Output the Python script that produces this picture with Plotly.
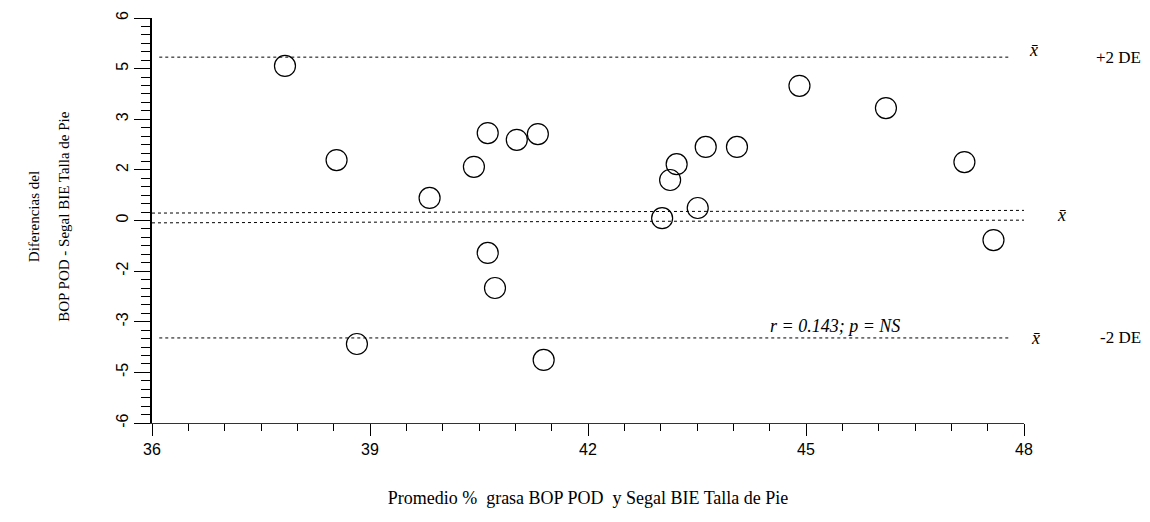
import plotly.graph_objects as go

# Data
promedio = [37.83, 38.54, 38.82, 39.82, 40.43, 40.62, 40.62, 40.72, 41.02, 41.31, 41.39,
            43.02, 43.13, 43.22, 43.51, 43.62, 44.05, 44.91, 46.10, 47.18, 47.58]
diferencia = [4.58, 1.79, -3.66, 0.67, 1.59, 2.59, -0.96, -2.00, 2.39, 2.56, -4.13,
              0.07, 1.20, 1.67, 0.37, 2.18, 2.18, 3.99, 3.33, 1.73, -0.58]

limite_sup = 4.84      # x̄ + 2 DE
limite_inf = -3.48     # x̄ - 2 DE
media_a = [0.22, 0.30]   # upper mean line (left, right)
media_b = [-0.07, 0.01]  # lower mean line (left, right)
lim_x = [36.1, 47.8]
media_x = [36.0, 48.0]

x_ticks = [36, 39, 42, 45, 48]
y_tickvals = [6, 4.5, 3, 1.5, 0, -1.5, -3, -4.5, -6]
y_ticktext = ["6", "5", "3", "2", "0", "-2", "-3", "-5", "-6"]

serif = "Liberation Serif, DejaVu Serif, serif"
sans = "Liberation Sans, Arial, sans-serif"

fig = go.Figure()
dot = dict(color="black", width=1, dash="dot")
fig.add_trace(go.Scatter(x=lim_x, y=[limite_sup, limite_sup], mode="lines", line=dot,
                         showlegend=False, hoverinfo="skip"))
fig.add_trace(go.Scatter(x=lim_x, y=[limite_inf, limite_inf], mode="lines", line=dot,
                         showlegend=False, hoverinfo="skip"))
fig.add_trace(go.Scatter(x=media_x, y=media_a, mode="lines", line=dot,
                         showlegend=False, hoverinfo="skip"))
fig.add_trace(go.Scatter(x=media_x, y=media_b, mode="lines", line=dot,
                         showlegend=False, hoverinfo="skip"))
fig.add_trace(go.Scatter(x=promedio, y=diferencia, mode="markers",
                         marker=dict(symbol="circle-open", size=21, color="black",
                                     line=dict(width=1.2, color="black")),
                         showlegend=False))

fig.update_layout(
    width=1150, height=522,
    margin=dict(l=152, r=126, t=18, b=99),
    paper_bgcolor="white", plot_bgcolor="white",
    font=dict(family=sans, color="black"),
    xaxis=dict(range=[36, 48], tickvals=x_ticks, ticks="outside", ticklen=12,
               tickcolor="black", showgrid=False, zeroline=False,
               showline=True, linecolor="#333", linewidth=1,
               tickfont=dict(size=16, family=sans),
               minor=dict(dtick=0.5, ticks="outside", ticklen=7, tickcolor="black"),
               title=dict(text="Promedio %  grasa BOP POD  y Segal BIE Talla de Pie",
                          font=dict(family=serif, size=18), standoff=34)),
    yaxis=dict(range=[-6, 6], tickvals=y_tickvals, ticktext=y_ticktext,
               ticks="outside", ticklen=16, tickcolor="black", tickangle=-90,
               showgrid=False, zeroline=False, showline=True, linecolor="black",
               linewidth=1.5, tickfont=dict(size=16, family=sans),
               minor=dict(dtick=0.25, ticks="outside", ticklen=9, tickcolor="black")),
)

ann_font = dict(family=serif, size=18, color="black")
de_font = dict(family=serif, size=17, color="black")
annotations = [
    dict(x=1.004, y=limite_sup + 0.2, text="<i>x̄</i>", xanchor="left", font=ann_font),
    dict(x=1.137, y=limite_sup, text="+2 DE", xanchor="right", font=de_font),
    dict(x=1.035, y=0.15, text="<i>x̄</i>", xanchor="left", font=ann_font),
    dict(x=1.006, y=limite_inf, text="<i>x̄</i>", xanchor="left", font=ann_font),
    dict(x=1.137, y=limite_inf, text="-2 DE", xanchor="right", font=de_font),
]
for a in annotations:
    fig.add_annotation(xref="paper", yref="y", showarrow=False,
                       yanchor="middle", **a)

fig.add_annotation(xref="x", yref="y", x=45.4, y=limite_inf, yanchor="bottom",
                   text="<i>r = 0.143; p = NS</i>", showarrow=False,
                   font=dict(family=serif, size=18, color="black"))

fig.add_annotation(xref="paper", yref="paper", x=-0.146, y=0.51, textangle=-90,
                   text="Diferencias del", showarrow=False,
                   font=dict(family=serif, size=15, color="black"))
fig.add_annotation(xref="paper", yref="paper", x=-0.112, y=0.51, textangle=-90,
                   text="BOP POD - Segal BIE Talla de Pie", showarrow=False,
                   font=dict(family=serif, size=15, color="black"))

fig.write_html("out.html")
